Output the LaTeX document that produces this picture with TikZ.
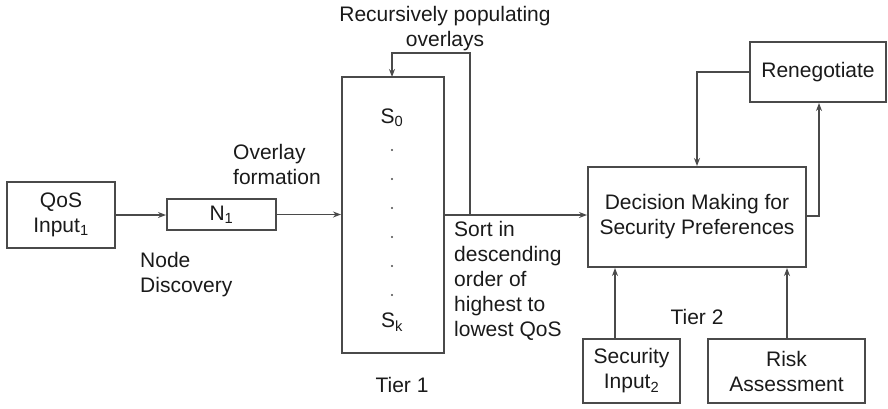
\documentclass[tikz,border=0pt]{standalone}
\usepackage{fontspec}
\setmainfont{Liberation Sans}
\usetikzlibrary{arrows.meta}
\definecolor{ln}{HTML}{4A4A4A}
\definecolor{tx}{HTML}{1A1A1A}
\begin{document}
\begin{tikzpicture}[x=1pt,y=-1pt,
  font=\fontsize{21}{25}\selectfont, text=tx,
  box/.style={draw=ln, line width=2pt, minimum width=#1, inner sep=0pt, align=center},
  conn/.style={draw=ln, line width=1.5pt, -{Stealth[length=8pt,width=6pt]}},
  lbl/.style={inner sep=0pt, align=left}]
\useasboundingbox (0,0) rectangle (888,408);
% boxes
\node[box=108pt, minimum height=66pt] (qos) at (61,215) {QoS\\Input\textsubscript{1}};
\node[box=109pt, minimum height=31pt] (n1) at (221.5,214.5) {N\textsubscript{1}};
\node[box=102pt, minimum height=276pt] (big) at (393,215) {};
\node[box=218pt, minimum height=100pt] (dec) at (697,217) {Decision Making for\\Security Preferences};
\node[box=136pt, minimum height=60pt] (ren) at (818,72) {Renegotiate};
\node[box=97pt, minimum height=64pt] (sec) at (631.5,371) {Security\\Input\textsubscript{2}};
\node[box=157pt, minimum height=64pt] (risk) at (786.5,371) {Risk\\Assessment};
% contents of big box
\node[inner sep=0pt] (s0) at (392,118) {S\textsubscript{0}};
\foreach \i/\yy in {1/150,2/179,3/208,4/237,5/266,6/295}{
  \fill[ln] (392,\yy) circle (1.1pt) coordinate (dot\i);
}
\node[inner sep=0pt] (sk) at (392,322) {S\textsubscript{k}};
% labels
\node[lbl, align=center, anchor=north] (rec) at (445,6) {Recursively populating\\overlays};
\node[lbl, anchor=north west] (ovl) at (233,144) {Overlay\\formation};
\node[lbl, anchor=north west] (nd) at (140,252) {Node\\Discovery};
\node[lbl, anchor=north west] (sort) at (454,221) {Sort in\\descending\\order of\\highest to\\lowest QoS};
\node[inner sep=0pt] (t1) at (402,385) {Tier 1};
\node[inner sep=0pt] (t2) at (697,317) {Tier 2};
% connectors
\coordinate (loopA) at (470,215);
\draw[conn] (qos.east) -- (n1.west |- qos.east);
\draw[conn] (n1.east) -- (big.west |- n1.east);
\draw[conn] (big.east |- loopA) -- (dec.west |- loopA);
\draw[conn] (loopA) -- (470,53) -- (392,53) -- (392,77);
\draw[conn] (ren.west) -- (697,72) -- (dec.north);
\draw[conn] (dec.east |- 0,216) -- (819,216) -- (ren.south -| 819,0);
\draw[conn] (sec.north -| 615,0) -- (dec.south -| 615,0);
\draw[conn] (risk.north -| 787,0) -- (dec.south -| 787,0);
\end{tikzpicture}
\end{document}
